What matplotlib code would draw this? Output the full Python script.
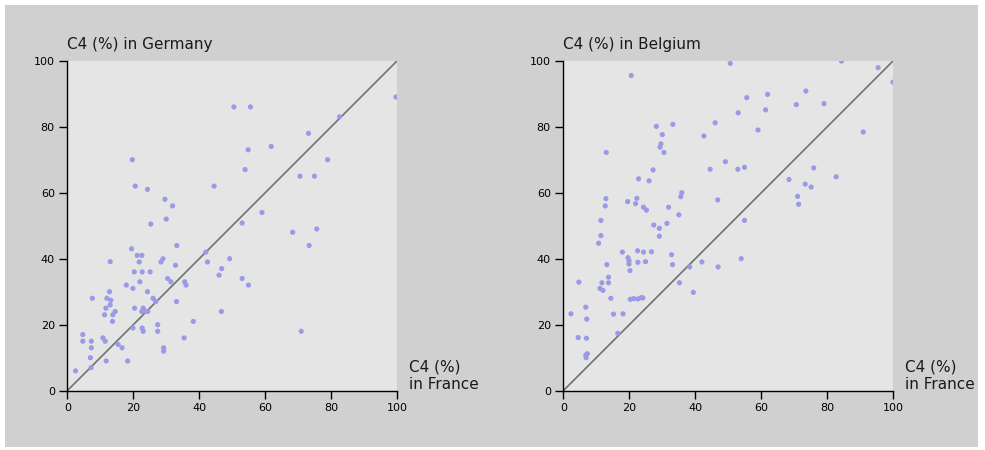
import matplotlib.pyplot as plt
from matplotlib.patches import Rectangle

# C4 (%) in France vs Germany
de_france = [19.7, 20.6, 24.3, 44.5, 29.6, 31.9, 30.0, 25.3,
             19.5, 21.2, 22.6, 21.8, 13.0, 33.2, 28.4, 29.0, 32.8,
             20.3, 22.7, 25.1, 22.0, 30.4, 31.4, 35.6, 36.0, 42.0, 42.5,
             46.8, 46.0, 49.2, 17.9, 19.9, 24.3, 12.8, 7.6, 12.0, 13.2,
             13.0, 11.7, 11.3, 13.8, 14.5, 13.7, 26.0, 26.8, 20.4, 23.0,
             22.6, 23.7, 24.4, 33.1, 19.9, 22.7, 23.0, 27.4, 27.4, 38.2,
             46.7, 35.4, 29.2, 29.2, 4.7, 4.7, 7.3, 7.3, 7.0, 7.2, 10.8,
             11.5, 15.4, 16.6, 11.8, 18.3, 2.5,
             50.5, 55.5, 99.6, 82.5, 73.1, 54.8, 61.8, 53.9, 78.9, 70.5,
             74.9, 59.0, 53.0, 68.3, 75.6, 73.3, 53.0, 54.9, 70.9]
de_germany = [70, 62, 61, 62, 58, 56, 52, 50.5,
              43, 41, 41, 39, 39.1, 44, 39, 40, 38,
              36, 36, 36, 33, 34, 33, 33, 32, 42, 39,
              37, 35, 40, 32, 31, 30, 30, 28, 28, 27.4,
              26, 25, 23, 23, 24, 21, 28, 27, 25, 25,
              24, 24, 24, 27, 19, 19, 18, 20, 18, 21,
              24, 16, 13, 12, 17, 15, 15, 13, 10, 7, 16,
              15, 14, 13, 9, 9, 6,
              86, 86, 89, 83, 78, 73, 74, 67, 70, 65,
              65, 54, 50.8, 48, 49, 44, 34, 32, 18]

# C4 (%) in France vs Belgium
be_france = [20.6, 28.2, 33.2, 30.0, 29.6, 29.3, 30.5, 13.0, 42.6, 46.0,
             49.1, 44.5, 27.2, 22.8, 26.0, 35.9, 35.6, 46.8, 12.9, 12.7,
             19.5, 22.3, 21.9, 24.3, 25.2, 31.9, 35.0, 11.4, 27.4, 31.4,
             29.1, 11.4, 10.7, 29.1, 17.9, 22.5, 24.3, 26.7, 19.6, 19.9,
             19.9, 20.2, 22.6, 24.9, 32.8, 33.1, 13.2, 4.7, 11.7, 13.7,
             13.7, 11.1, 12.0, 14.4, 20.3, 21.3, 22.6, 23.6, 24.1, 38.3,
             42.0, 46.9, 35.2, 39.4, 2.3, 6.8, 7.1, 15.2, 18.1, 4.5,
             7.0, 16.5, 6.8, 7.3, 6.9,
             50.6, 84.3, 95.4, 99.9, 55.6, 61.9, 73.5, 53.0, 61.3, 70.6,
             79.0, 59.0, 90.9, 52.9, 54.9, 75.9, 82.7, 68.4, 73.3, 75.1,
             71.0, 71.3, 54.9, 53.9]
be_belgium = [95.5, 80.1, 80.7, 77.6, 74.8, 73.8, 72.2, 72.2, 77.2, 81.2,
              69.4, 67.1, 66.9, 64.2, 63.6, 60.0, 58.8, 57.8, 58.2, 56.0,
              57.3, 58.3, 56.7, 55.6, 54.7, 55.6, 53.3, 51.6, 50.2, 50.7,
              49.2, 47.0, 44.7, 46.8, 42.0, 42.4, 42.0, 42.1, 40.3, 39.4,
              38.4, 36.4, 38.9, 39.1, 41.2, 38.2, 38.2, 32.9, 32.7, 34.4,
              32.7, 31.0, 30.4, 28.0, 27.7, 27.9, 27.8, 28.2, 28.1, 37.5,
              39.0, 37.5, 32.7, 29.8, 23.3, 25.3, 21.7, 23.2, 23.3, 16.1,
              15.9, 17.4, 10.8, 11.2, 10.0,
              99.2, 99.9, 97.9, 93.5, 88.8, 89.8, 90.8, 84.2, 85.1, 86.7,
              87.0, 79.0, 78.4, 67.1, 67.7, 67.5, 64.8, 64.0, 62.6, 61.7,
              58.9, 56.5, 51.6, 40.0]

plt.rcParams['font.family'] = ['DejaVu Sans']

fig = plt.figure(figsize=(9.85, 4.5), dpi=100, facecolor='white')
# grauer Rahmen hinter den Diagrammen
fig.patches.append(Rectangle((5 / 985, 3 / 450), 973 / 985, 442 / 450, transform=fig.transFigure,
                             facecolor='#d0d0d0', edgecolor='none', zorder=-10))

panels = [
    (0.0683, de_france, de_germany, 'C4 (%) in Germany'),
    (0.5719, be_france, be_belgium, 'C4 (%) in Belgium'),
]

for x0, xs, ys, title in panels:
    ax = fig.add_axes([x0, 0.1318, 0.335, 0.7333])
    ax.set_facecolor('#e5e5e5')
    ax.plot([0, 100], [0, 100], color='#707070', lw=1.2, zorder=2)
    ax.scatter(xs, ys, s=14, color='#9a9ae6', edgecolors='none', zorder=3)
    ax.set_xlim(0, 100)
    ax.set_ylim(0, 100)
    ax.set_xticks([0, 20, 40, 60, 80, 100])
    ax.set_yticks([0, 20, 40, 60, 80, 100])
    for s in ['top', 'right']:
        ax.spines[s].set_visible(False)
    for s in ['left', 'bottom']:
        ax.spines[s].set_color('black')
        ax.spines[s].set_linewidth(1.0)
    ax.tick_params(direction='out', length=6, width=1, labelsize=8, colors='black', pad=3)
    ax.text(0.0, 1.025, title, transform=ax.transAxes, fontsize=11,
            ha='left', va='bottom', color='#1a1a1a')
    ax.text(1.035, -0.005, 'C4 (%)\nin France', transform=ax.transAxes, fontsize=11,
            ha='left', va='bottom', color='#1a1a1a', linespacing=1.25)

plt.savefig('out.png', dpi=100, facecolor=fig.get_facecolor())
